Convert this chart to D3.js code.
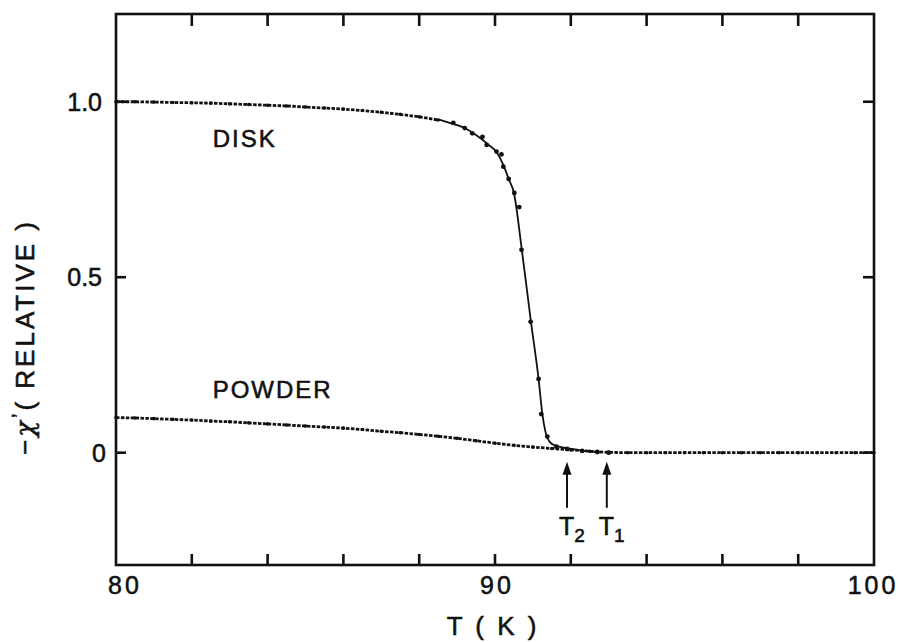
<!DOCTYPE html>
<html>
<head>
<meta charset="utf-8">
<script src="https://cdn.jsdelivr.net/npm/d3@7/dist/d3.min.js"></script>
<style>
  html, body { margin: 0; padding: 0; background: #fff; }
  svg { display: block; }
  text { font-family: "Liberation Sans", Arial, Helvetica, sans-serif; fill: #111; stroke: #111; stroke-width: 0.55; }
</style>
</head>
<body>
<svg id="chart" width="900" height="642"></svg>
<script>
// ---- data ----
const xMajorTicks = [80, 90, 100];
const xMinorTicks = [82, 84, 86, 88, 92, 94, 96, 98];
const yTicks = [0, 0.5, 1.0];
const yTickLabels = ["0", "0.5", "1.0"];

// DISK: measured points (dots)
const diskT = [80, 80.5, 81, 81.5, 82, 82.5, 83, 83.5, 84, 84.5, 85, 85.5, 86, 86.5, 87, 87.5, 88, 88.5,
               88.9, 89.2, 89.4, 89.67, 89.78, 90.04, 90.17, 90.22, 90.36, 90.51, 90.64, 90.70, 90.94,
               91.15, 91.22, 91.38, 91.62, 91.9, 92.3, 92.7, 93.0];
const diskV = [1.000, 1.000, 0.999, 0.998, 0.997, 0.996, 0.994, 0.992, 0.990, 0.988, 0.985, 0.982, 0.979,
               0.975, 0.970, 0.964, 0.957, 0.948, 0.940, 0.925, 0.910, 0.900, 0.877, 0.858, 0.850, 0.815,
               0.780, 0.740, 0.700, 0.578, 0.373, 0.210, 0.110, 0.046, 0.017, 0.011, 0.005, 0.002, 0.000];

// DISK: solid guide curve through the transition
const fitT = [88.5, 88.8, 89.2, 89.5, 89.8, 90.05, 90.22, 90.36, 90.5, 90.7, 90.94, 91.15, 91.25, 91.33,
              91.45, 91.6, 91.9, 92.3, 92.8];
const fitV = [0.950, 0.940, 0.925, 0.905, 0.880, 0.855, 0.820, 0.780, 0.740, 0.585, 0.380, 0.210, 0.110,
              0.060, 0.030, 0.020, 0.013, 0.006, 0.001];

// POWDER: measured points
const powderT = [80, 80.5, 81, 81.5, 82, 82.5, 83, 83.5, 84, 84.5, 85, 85.5, 86, 86.5, 87, 87.5, 88, 88.5,
                 89, 89.5, 90, 90.5, 91, 91.5, 92, 92.5, 93, 93.5, 94, 94.5, 95, 95.5, 96, 96.5, 97, 97.5,
                 98, 98.5, 99, 99.5, 100];
const powderV = [0.100, 0.099, 0.097, 0.095, 0.093, 0.090, 0.088, 0.085, 0.082, 0.079, 0.076, 0.073, 0.070,
                 0.066, 0.061, 0.057, 0.052, 0.047, 0.041, 0.034, 0.027, 0.021, 0.016, 0.012, 0.008, 0.004,
                 0.001, 0.000, 0.000, 0.000, 0.000, 0.000, 0.000, 0.000, 0.000, 0.000, 0.000, 0.000, 0.000,
                 0.000, 0.000];

const arrowT = [91.9, 92.95];
const arrowLabels = [["T", "2"], ["T", "1"]];

// ---- layout ----
const margin = { left: 116, right: 26, top: 14, bottom: 77 };
const W = 900, H = 642;
const svg = d3.select("#chart");

const x = d3.scaleLinear().domain([80, 100]).range([margin.left, W - margin.right]);
const y = d3.scaleLinear().domain([-0.32, 1.25]).range([H - margin.bottom, margin.top]);

const x0 = x.range()[0], x1 = x.range()[1];
const yb = y.range()[0], yt = y.range()[1];

// frame
svg.append("rect")
  .attr("x", x0).attr("y", yt)
  .attr("width", x1 - x0).attr("height", yb - yt)
  .attr("fill", "none").attr("stroke", "#111").attr("stroke-width", 2.6);

// x ticks (inward, top and bottom)
const allX = xMajorTicks.concat(xMinorTicks);
const tickG = svg.append("g").attr("stroke", "#111").attr("stroke-width", 2.6);
allX.forEach(t => {
  if (t === 80 || t === 100) return;
  tickG.append("line").attr("x1", x(t)).attr("x2", x(t)).attr("y1", yb).attr("y2", yb - 11);
  tickG.append("line").attr("x1", x(t)).attr("x2", x(t)).attr("y1", yt).attr("y2", yt + 12);
});
// y ticks (inward, left and right)
yTicks.forEach(v => {
  tickG.append("line").attr("x1", x0).attr("x2", x0 + 10).attr("y1", y(v)).attr("y2", y(v));
  tickG.append("line").attr("x1", x1).attr("x2", x1 - 11).attr("y1", y(v)).attr("y2", y(v));
});

// x tick labels
svg.append("g").selectAll("text").data(xMajorTicks).join("text")
  .attr("x", d => x(d) + (d === 80 ? 9 : d === 100 ? -1 : 2))
  .attr("y", yb + 29)
  .attr("text-anchor", "middle")
  .attr("font-size", 25)
  .attr("letter-spacing", 3)
  .text(d => d);

// y tick labels
svg.append("g").selectAll("text").data(yTicks).join("text")
  .attr("x", (d, i) => x0 - 14 + (d === 0 ? 4 : 0))
  .attr("y", d => y(d) + 9)
  .attr("text-anchor", "end")
  .attr("font-size", 25)
  .text((d, i) => yTickLabels[i]);

// axis titles
svg.append("text")
  .attr("x", (x0 + x1) / 2 - 2).attr("y", 635)
  .attr("text-anchor", "middle")
  .attr("font-size", 26)
  .attr("letter-spacing", 3)
  .text("T ( K )");

const yl = svg.append("text")
  .attr("transform", "translate(34,337) rotate(-90)")
  .attr("text-anchor", "middle")
  .attr("font-size", 26)
  .attr("letter-spacing", 3);
yl.append("tspan").text("\u2212");
yl.append("tspan").attr("font-family", "DejaVu Serif, serif").attr("font-style", "italic").text("\u03C7");
yl.append("tspan").attr("dy", -8).attr("font-size", 20).text("\u2019");
yl.append("tspan").attr("dy", 8).text("( RELATIVE )");

// series
const pts = (T, V) => T.map((t, i) => [t, V[i]]);
const line = d3.line().x(d => x(d[0])).y(d => y(d[1]));
const smooth = d3.line().x(d => x(d[0])).y(d => y(d[1])).curve(d3.curveMonotoneX);

const powder = pts(powderT, powderV);
const disk = pts(diskT, diskV);
const fit = pts(fitT, fitV);

// dotted powder trace
svg.append("path").datum(powder).attr("d", line)
  .attr("fill", "none").attr("stroke", "#111").attr("stroke-width", 2.8)
  .attr("stroke-dasharray", "3.5 1.4");
svg.append("g").selectAll("circle").data(powder).join("circle")
  .attr("cx", d => x(d[0])).attr("cy", d => y(d[1])).attr("r", 1.8).attr("fill", "#111");

// dotted disk plateau
svg.append("path").datum(disk.filter(d => d[0] <= 88.6)).attr("d", line)
  .attr("fill", "none").attr("stroke", "#111").attr("stroke-width", 2.8)
  .attr("stroke-dasharray", "3.5 1.4");
// solid curve through transition
svg.append("path").datum(fit).attr("d", smooth)
  .attr("fill", "none").attr("stroke", "#111").attr("stroke-width", 1.8);
svg.append("g").selectAll("circle").data(disk).join("circle")
  .attr("cx", d => x(d[0])).attr("cy", d => y(d[1]))
  .attr("r", d => d[0] > 88.6 ? 2.4 : 1.8).attr("fill", "#111");

// series labels
svg.append("text").attr("x", x(82.55)).attr("y", y(0.87))
  .attr("font-size", 24).attr("letter-spacing", 2).text("DISK");
svg.append("text").attr("x", x(82.55)).attr("y", y(0.157))
  .attr("font-size", 24).attr("letter-spacing", 2).text("POWDER");

// arrows T2, T1
arrowT.forEach((t, i) => {
  const ax = x(t);
  const tipY = y(-0.026), baseY = y(-0.157);
  svg.append("line").attr("x1", ax).attr("x2", ax).attr("y1", tipY + 10).attr("y2", baseY)
    .attr("stroke", "#111").attr("stroke-width", 2);
  svg.append("path")
    .attr("d", `M${ax},${tipY} L${ax - 4.5},${tipY + 13} L${ax + 4.5},${tipY + 13} Z`)
    .attr("fill", "#111");
  const lab = svg.append("text").attr("x", ax - 8).attr("y", y(-0.234))
    .attr("font-size", 25);
  lab.append("tspan").text(arrowLabels[i][0]);
  lab.append("tspan").attr("dy", 7).attr("font-size", 19).text(arrowLabels[i][1]);
});
</script>
</body>
</html>
